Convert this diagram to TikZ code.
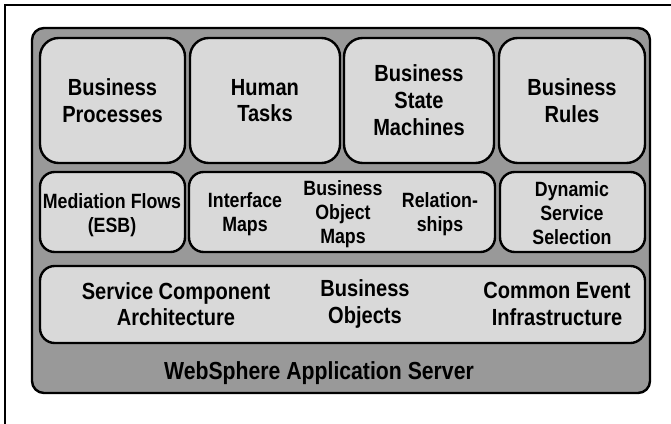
\documentclass[tikz,border=0pt]{standalone}
\usepackage{fontspec}
\setmainfont[FakeStretch=0.86,BoldFont={Liberation Sans Bold}]{Liberation Sans}
\begin{document}
\begin{tikzpicture}[x=0.75pt,y=-0.75pt,
  frame/.style={line width=1.2pt,black},
  container/.style={draw=black,line width=1.8pt,fill=black!40,rounded corners=9pt},
  bigbox/.style={draw=black,line width=1.8pt,fill=black!15,rounded corners=14pt},
  midbox/.style={draw=black,line width=1.8pt,fill=black!15,rounded corners=11pt},
  bigtxt/.style={align=center,font=\bfseries\fontsize{17.5}{20}\selectfont,inner sep=0pt},
  midtxt/.style={align=center,font=\bfseries\fontsize{15.5}{18}\selectfont,inner sep=0pt},
  bottxt/.style={align=center,font=\bfseries\fontsize{18.5}{21}\selectfont,inner sep=0pt}]
\useasboundingbox (0,0) rectangle (671,424);
% scan frame
\coordinate (f1) at (5,424);
\coordinate (f2) at (5,5);
\coordinate (f3) at (671,5);
\draw[frame] (f1) -- (f2) -- (f3);
% container
\node[container,minimum width=618*0.75pt,minimum height=365*0.75pt,inner sep=0pt] (was) at (341,210.5) {};
% top row
\node[bigbox,minimum width=145*0.75pt,minimum height=125*0.75pt] (bp) at (112.5,100.5) {};
\node[bigbox,minimum width=150*0.75pt,minimum height=125*0.75pt] (ht) at (265,100.5) {};
\node[bigbox,minimum width=150*0.75pt,minimum height=125*0.75pt] (bsm) at (419,100.5) {};
\node[bigbox,minimum width=146*0.75pt,minimum height=125*0.75pt] (br) at (572,100.5) {};
\node[bigtxt] (bpt) at (bp) {Business\\Processes};
\node[bigtxt] (htt) at (ht) {Human\\Tasks};
\node[bigtxt] (bsmt) at (419,100) {Business\\State\\Machines};
\node[bigtxt] (brt) at (br) {Business\\Rules};
% second row
\node[midbox,minimum width=145*0.75pt,minimum height=80*0.75pt] (mf) at (112.5,212) {};
\node[midbox,minimum width=306*0.75pt,minimum height=80*0.75pt] (mid) at (342,212) {};
\node[midbox,minimum width=145*0.75pt,minimum height=80*0.75pt] (dss) at (572.5,212) {};
\node[midtxt] (mft) at (112,215) {Mediation Flows\\(ESB)};
\node[midtxt] (imt) at (245,214) {Interface\\Maps};
\node[midtxt] (bomt) at (343,214) {Business\\Object\\Maps};
\node[midtxt] (relt) at (440,214) {Relation-\\ships};
\node[midtxt] (dsst) at (572,213) {Dynamic\\Service\\Selection};
% third row
\node[midbox,minimum width=605*0.75pt,minimum height=77*0.75pt] (base) at (342.5,304.5) {};
\node[bigtxt] (scat) at (176,304) {Service Component\\Architecture};
\node[bigtxt] (bot) at (365,304) {Business\\Objects};
\node[bigtxt] (ceit) at (557,304) {Common Event\\Infrastructure};
% bottom label
\node[bottxt] (wast) at (319,373) {WebSphere Application Server};
\end{tikzpicture}
\end{document}
